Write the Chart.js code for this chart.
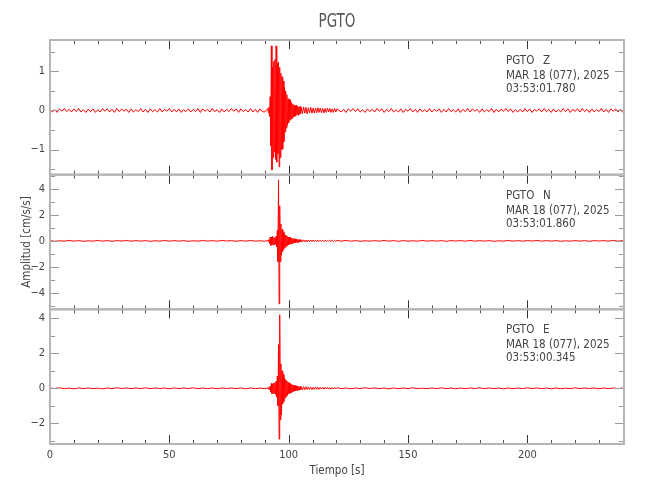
<!DOCTYPE html>
<html>
<head>
<meta charset="utf-8">
<title>PGTO</title>
<script src="https://cdn.jsdelivr.net/npm/chart.js@4.4.1/dist/chart.umd.min.js"></script>
<style>
  html, body { margin: 0; padding: 0; background: #fff; }
</style>
</head>
<body>
<canvas id="sismo" width="650" height="500"></canvas>
<script>
/* ─── Datos leidos del sismograma (cm/s/s) ─── */
// cada traza va por tramos: inicio [s] y paso de muestreo [s] por tramo
const segStart = [0, 91.25, 105.75, 122];
const zStep    = [1, 0.25, 0.5, 1];
const nStep    = [2, 0.25, 0.5, 2];
const eStep    = [2, 0.25, 0.5, 2];

const zPre = [0.03,-0.04,0.02,-0.05,0.04,-0.02,0.05,-0.03,0.03,-0.04,
  0.04,-0.03,0.05,-0.04,0.02,-0.05,0.03,-0.03,0.04,-0.05,
  0.02,-0.04,0.05,-0.02,0.04,-0.04,0.03,-0.05,0.05,-0.03,
  0.04,-0.02,0.03,-0.05,0.04,-0.04,0.02,-0.03,0.05,-0.04,
  0.03,-0.05,0.04,-0.03,0.02,-0.04,0.05,-0.04,0.03,-0.02,
  0.05,-0.04,0.03,-0.04,0.04,-0.05,0.02,-0.03,0.04,-0.04,
  0.03,-0.03,0.05,-0.05,0.04,-0.02,0.03,-0.04,0.05,-0.03,
  0.02,-0.05,0.04,-0.04,0.03,-0.03,0.05,-0.02,0.04,-0.05,
  0.04,-0.03,0.02,-0.04,0.05,-0.04,0.03,-0.05,0.04,-0.03,
  -0.04];
const zEvent = [0.05,-0.06,0.08,-0.15,0.35,-0.9,1.65,-1.52,1.1,-1.2,
  1.25,-1.05,1.3,-1.25,1.65,-1.32,1.2,-1.1,1.24,-1.44,
  1.1,-1.2,0.95,-1.0,0.86,-0.99,0.75,-0.8,0.6,-0.55,
  0.5,-0.45,0.4,-0.38,0.3,-0.32,0.28,-0.25,0.27,-0.22,
  0.2,-0.2,0.16,-0.15,0.14,-0.16,0.12,-0.13,0.14,-0.1,
  0.11,-0.12,0.09,-0.1,0.1,-0.08,0.09];
const zCoda = [-0.08,0.09,-0.07,0.08,-0.09,0.07,-0.06,0.08,-0.07,0.06,
  -0.07,0.06,-0.06,0.07,-0.05,0.06,-0.06,0.05,-0.06,0.05,
  -0.05,0.06,-0.04,0.05,-0.05,0.04,-0.05,0.05,-0.04,0.04];
const zPost = [-0.04,0.03,-0.05,0.04,-0.02,0.05,-0.03,0.04,-0.04,0.02,
  -0.05,0.04,-0.03,0.03,-0.04,0.05,-0.02,0.04,-0.05,0.03,
  -0.03,0.05,-0.04,0.02,-0.04,0.04,-0.05,0.03,-0.02,0.05,
  -0.04,0.03,-0.05,0.04,-0.03,0.02,-0.04,0.05,-0.04,0.03,
  -0.02,0.04,-0.05,0.03,-0.04,0.05,-0.03,0.02,-0.04,0.04,
  -0.05,0.03,-0.03,0.05,-0.04,0.04,-0.02,0.03,-0.05,0.04,
  -0.04,0.02,-0.03,0.05,-0.05,0.03,-0.04,0.04,-0.02,0.05,
  -0.03,0.04,-0.05,0.02,-0.04,0.03,-0.04,0.05,-0.03,0.04,
  -0.05,0.03,-0.02,0.04,-0.04,0.05,-0.03,0.03,-0.05,0.04,
  -0.04,0.02,-0.04,0.05,-0.03,0.04,-0.05,0.03,-0.02,0.04,
  -0.04,0.05,-0.03,0.03,-0.05,0.04,-0.04,0.02,-0.03,0.05,
  -0.04,0.03,-0.05,0.04,-0.02,0.04,-0.04,0.03,-0.05];

const nPre = [0.02,-0.03,0.01,-0.02,0.03,-0.02,0.02,-0.03,0.01,-0.02,
  0.03,-0.02,0.02,-0.03,0.02,-0.01,0.03,-0.02,0.02,-0.02,
  0.02,-0.03,0.01,-0.02,0.03,-0.02,0.02,-0.02,0.02,-0.03,
  0.01,-0.02,0.03,-0.02,0.02,-0.02,0.03,-0.01,0.02,-0.03,
  0.02,-0.02,0.03,-0.02,0.01,-0.03];
const nEvent = [0.04,-0.05,0.1,-0.2,0.3,-0.35,0.3,-0.3,0.35,-0.3,
  0.25,-0.3,0.28,-0.25,0.35,-0.45,0.8,-1.6,4.7,-4.85,
  2.7,-1.6,1.3,-1.1,0.9,-0.8,0.7,-0.6,0.55,-0.5,
  0.45,-0.4,0.4,-0.35,0.3,-0.32,0.28,-0.25,0.3,-0.22,
  0.2,-0.22,0.18,-0.16,0.17,-0.15,0.14,-0.13,0.12,-0.12,
  0.11,-0.1,0.1,-0.09,0.1,-0.08,0.08];
const nCoda = [-0.09,0.08,-0.08,0.07,-0.08,0.07,-0.06,0.07,-0.06,0.07,
  -0.06,0.05,-0.06,0.06,-0.05,0.05,-0.06,0.05,-0.05,0.04,
  -0.05,0.05,-0.04,0.05,-0.04,0.04,-0.05,0.04,-0.04,0.04];
const nPost = [-0.02,0.03,-0.02,0.02,-0.03,0.01,-0.02,0.02,-0.02,0.03,
  -0.02,0.02,-0.03,0.02,-0.02,0.01,-0.02,0.03,-0.02,0.02,
  -0.02,0.02,-0.03,0.02,-0.01,0.02,-0.02,0.03,-0.02,0.02,
  -0.02,0.02,-0.03,0.01,-0.02,0.03,-0.02,0.02,-0.02,0.02,
  -0.01,0.03,-0.02,0.02,-0.02,0.02,-0.03,0.01,-0.02,0.02,
  -0.02,0.02,-0.03,0.02,-0.01,0.02,-0.02,0.03,-0.02,0.02];

const ePre = [0.02,-0.02,0.03,-0.02,0.01,-0.03,0.02,-0.02,0.02,-0.02,
  0.01,-0.03,0.02,-0.02,0.03,-0.01,0.02,-0.02,0.02,-0.02,
  0.03,-0.02,0.02,-0.01,0.02,-0.03,0.02,-0.02,0.02,-0.01,
  0.03,-0.02,0.02,-0.02,0.02,-0.03,0.02,-0.01,0.02,-0.02,
  0.02,-0.03,0.02,-0.02,0.01,-0.02];
const eEvent = [0.03,-0.04,0.05,-0.08,0.12,-0.2,0.28,-0.3,0.25,-0.3,
  0.3,-0.28,0.32,-0.35,0.4,-0.5,0.7,-1.0,2.5,-2.9,
  4.2,-1.8,1.4,-1.5,1.0,-0.9,0.8,-0.75,0.6,-0.55,
  0.5,-0.45,0.42,-0.4,0.35,-0.32,0.3,-0.28,0.26,-0.25,
  0.22,-0.2,0.2,-0.18,0.17,-0.16,0.15,-0.14,0.14,-0.12,
  0.12,-0.11,0.1,-0.1,0.1,-0.09,0.09];
const eCoda = [-0.1,0.09,-0.08,0.09,-0.07,0.08,-0.07,0.06,-0.07,0.06,
  -0.06,0.07,-0.05,0.06,-0.06,0.05,-0.05,0.06,-0.05,0.05,
  -0.04,0.05,-0.05,0.04,-0.05,0.04,-0.04,0.05,-0.04,0.04];
const ePost = [-0.02,0.02,-0.03,0.02,-0.02,0.03,-0.01,0.02,-0.02,0.02,
  -0.03,0.02,-0.02,0.02,-0.02,0.03,-0.02,0.01,-0.02,0.02,
  -0.02,0.03,-0.02,0.02,-0.03,0.02,-0.02,0.02,-0.01,0.03,
  -0.02,0.02,-0.02,0.02,-0.03,0.02,-0.02,0.02,-0.02,0.03,
  -0.01,0.02,-0.02,0.02,-0.03,0.02,-0.02,0.01,-0.02,0.03,
  -0.02,0.02,-0.01,0.02,-0.03,0.02,-0.02,0.02,-0.02,0.02];

/* ─── Ejes y rotulos ─── */
const xTicks  = [0, 50, 100, 150, 200];
const zTicks  = [-1, 0, 1];
const nTicks  = [-4, -2, 0, 2, 4];
const eTicks  = [-2, 0, 2, 4];
const zMinor  = [-1.5, -0.5, 0.5, 1.5];
const nMinor  = [-5, -3, -1, 1, 3, 5];
const eMinor  = [-3, -1, 1, 3];
const zRange  = [-1.64, 1.80];
const nRange  = [-5.27, 5.10];
const eRange  = [-3.18, 4.51];
const xRange  = [0, 240.5];

const station    = 'PGTO';
const components = ['Z', 'N', 'E'];
const dateLabel  = 'MAR 18 (077), 2025';
const startTimes = ['03:53:01.780', '03:53:01.860', '03:53:00.345'];

const FONT  = "'DejaVu Sans Condensed', 'Liberation Sans Narrow', 'Liberation Sans', sans-serif";
const TEXT  = '#444';
const FRAME = '#b5b5b5';

function buildTrace(segments, steps) {
  const pts = [];
  segments.forEach((vals, s) => {
    vals.forEach((v, i) => pts.push({ x: segStart[s] + i * steps[s], y: v }));
  });
  return pts;
}

const traces = [
  buildTrace([zPre, zEvent, zCoda, zPost], zStep),
  buildTrace([nPre, nEvent, nCoda, nPost], nStep),
  buildTrace([ePre, eEvent, eCoda, ePost], eStep),
];
const panelIds = ['yZ', 'yN', 'yE'];
const majors = [zTicks, nTicks, eTicks];
const minors = [zMinor, nMinor, eMinor];

const fmt = v => (v < 0 ? '\u2212' + Math.abs(v) : String(v));

function panelAxis(range, ticks) {
  return {
    type: 'linear',
    position: 'left',
    stack: 'panels',
    stackWeight: 1,
    min: range[0],
    max: range[1],
    afterBuildTicks: s => { s.ticks = ticks.map(v => ({ value: v })); },
    afterFit: s => { s.width = 50; },
    grid: { display: false, drawTicks: false },
    border: { display: false },
    ticks: { color: TEXT, padding: 5, font: { family: FONT, size: 11 }, callback: fmt },
  };
}

/* ─── Marco, marcas y textos ─── */
const framePlugin = {
  id: 'frame',
  afterDatasetsDraw(chart) {
    const { ctx, chartArea: a, scales } = chart;
    const xs = scales.x;
    ctx.save();
    panelIds.forEach((id, p) => {
      const ys = scales[id];
      const top = ys.top, bot = ys.bottom;
      ctx.lineWidth = 1;
      // marcas de tiempo, arriba y abajo
      for (let v = 0; v <= xs.max; v += 10) {
        const px = Math.round(xs.getPixelForValue(v)) + 0.5;
        const big = v % 50 === 0;
        const len = big ? 9 : 4;
        ctx.strokeStyle = big ? '#333' : '#555';
        ctx.beginPath();
        ctx.moveTo(px, top); ctx.lineTo(px, top + len);
        ctx.moveTo(px, bot); ctx.lineTo(px, bot - len);
        ctx.stroke();
      }
      // marcas de amplitud, izquierda y derecha
      ctx.strokeStyle = '#999';
      const drawY = (vals, len) => vals.forEach(v => {
        const py = Math.round(ys.getPixelForValue(v)) + 0.5;
        ctx.beginPath();
        ctx.moveTo(a.left, py); ctx.lineTo(a.left + len, py);
        ctx.moveTo(a.right, py); ctx.lineTo(a.right - len, py);
        ctx.stroke();
      });
      drawY(majors[p], 9);
      drawY(minors[p], 5);
      // marco del panel
      ctx.strokeStyle = FRAME;
      ctx.lineWidth = 2;
      ctx.strokeRect(a.left, top, a.right - a.left, bot - top);

      // etiqueta de la componente
      ctx.fillStyle = TEXT;
      ctx.font = '11.5px ' + FONT;
      ctx.textAlign = 'left';
      ctx.textBaseline = 'middle';
      ctx.fillText(station, 506, top + 21);
      ctx.fillText(components[p], 543, top + 21);
      ctx.fillText(dateLabel, 506, top + 36);
      ctx.fillText(startTimes[p], 506, top + 49);
    });

    // titulos
    const cx = (a.left + a.right) / 2;
    ctx.textAlign = 'center';
    ctx.textBaseline = 'middle';
    ctx.fillStyle = '#555';
    ctx.save();
    ctx.translate(cx, 22);
    ctx.scale(0.75, 1);
    ctx.font = '20px ' + FONT;
    ctx.fillText(station, 0, 0);
    ctx.restore();
    ctx.fillStyle = TEXT;
    ctx.font = '11.5px ' + FONT;
    ctx.fillText('Tiempo [s]', cx, 471);
    ctx.translate(27, (a.top + a.bottom) / 2);
    ctx.rotate(-Math.PI / 2);
    ctx.fillText('Amplitud [cm/s/s]', 0, 0);
    ctx.restore();
  },
};

new Chart(document.getElementById('sismo'), {
  type: 'line',
  data: {
    datasets: traces.map((pts, p) => ({
      label: components[p],
      data: pts,
      yAxisID: panelIds[p],
      borderColor: '#ff0000',
      borderWidth: 1,
      pointRadius: 0,
      tension: 0,
      fill: false,
    })),
  },
  options: {
    responsive: false,
    animation: false,
    layout: { padding: { top: 40, right: 26, left: 0, bottom: 0 } },
    plugins: { legend: { display: false }, tooltip: { enabled: false }, title: { display: false } },
    scales: {
      x: {
        type: 'linear',
        position: 'bottom',
        min: xRange[0],
        max: xRange[1],
        afterBuildTicks: s => { s.ticks = xTicks.map(v => ({ value: v })); },
        afterFit: s => { s.height = 56; },
        grid: { display: false, drawTicks: false },
        border: { display: false },
        ticks: { color: TEXT, padding: 5, maxRotation: 0, font: { family: FONT, size: 11 } },
      },
      // los ejes apilados se colocan de abajo hacia arriba: E, N, Z
      yE: panelAxis(eRange, eTicks),
      yN: panelAxis(nRange, nTicks),
      yZ: panelAxis(zRange, zTicks),
    },
  },
  plugins: [framePlugin],
});
</script>
</body>
</html>
